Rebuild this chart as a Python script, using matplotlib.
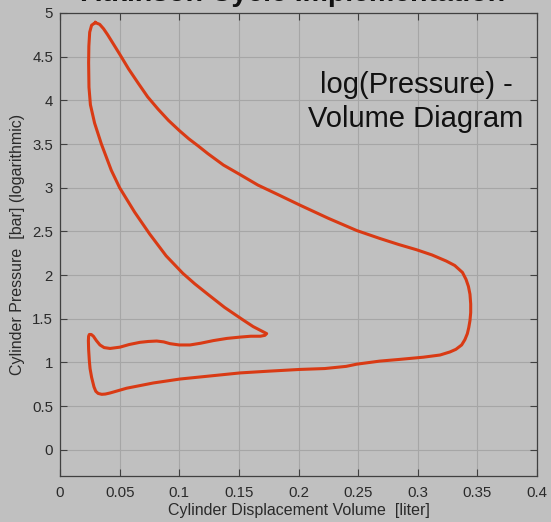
import matplotlib
matplotlib.use("Agg")
import matplotlib.pyplot as plt
import numpy as np

# cycle trace (volume in liter, log pressure)
vol = [0.0296, 0.0333, 0.0365, 0.040, 0.045, 0.050, 0.0575, 0.0654, 0.0735, 0.0822, 0.091,
       0.1004, 0.108, 0.1157, 0.124, 0.137, 0.151, 0.166, 0.183, 0.2013, 0.225, 0.2488,
       0.268, 0.284, 0.299, 0.312, 0.324, 0.331, 0.3375, 0.3405, 0.3425, 0.3438, 0.3444,
       0.3444, 0.3438, 0.3428, 0.3416, 0.3395, 0.3368, 0.332, 0.327, 0.3187, 0.3047, 0.285,
       0.268, 0.2488, 0.240, 0.222, 0.2013, 0.175, 0.151, 0.1258, 0.1006, 0.0783, 0.0559,
       0.047, 0.0419, 0.038, 0.035, 0.032, 0.030, 0.0285, 0.0265, 0.0252, 0.0246, 0.0240,
       0.0238, 0.0240, 0.0246, 0.0262, 0.028, 0.0305, 0.0335, 0.037, 0.042, 0.0503, 0.058,
       0.067, 0.074, 0.0811, 0.087, 0.0922, 0.100, 0.109, 0.118, 0.1286, 0.140, 0.151,
       0.160, 0.168, 0.1718, 0.1733, 0.162, 0.152, 0.138, 0.124, 0.113, 0.103, 0.089,
       0.0752, 0.0626, 0.050, 0.043, 0.0347, 0.029, 0.0255, 0.0243, 0.0240, 0.0242, 0.0249,
       0.0265, 0.0296]
logp = [4.89, 4.87, 4.82, 4.75, 4.64, 4.53, 4.36, 4.20, 4.04, 3.90, 3.77,
        3.65, 3.56, 3.48, 3.39, 3.26, 3.15, 3.03, 2.92, 2.80, 2.65, 2.51,
        2.42, 2.35, 2.29, 2.23, 2.16, 2.11, 2.03, 1.95, 1.87, 1.78, 1.67,
        1.57, 1.48, 1.40, 1.33, 1.26, 1.20, 1.15, 1.12, 1.085, 1.06, 1.035,
        1.015, 0.98, 0.955, 0.93, 0.92, 0.90, 0.88, 0.845, 0.81, 0.765, 0.705,
        0.67, 0.65, 0.638, 0.635, 0.645, 0.67, 0.72, 0.83, 0.93, 1.02, 1.15,
        1.25, 1.30, 1.32, 1.32, 1.30, 1.25, 1.20, 1.17, 1.16, 1.175, 1.205,
        1.23, 1.24, 1.245, 1.235, 1.215, 1.20, 1.20, 1.22, 1.25, 1.275, 1.29,
        1.30, 1.30, 1.31, 1.33, 1.41, 1.50, 1.63, 1.78, 1.90, 2.02, 2.22,
        2.47, 2.72, 3.00, 3.20, 3.50, 3.74, 3.95, 4.15, 4.43, 4.62, 4.78,
        4.86, 4.89]

xticks = np.arange(0, 0.401, 0.05)
yticks = np.arange(0, 5.01, 0.5)
xtick_labels = ['0', '0.05', '0.1', '0.15', '0.2', '0.25', '0.3', '0.35', '0.4']
ytick_labels = ['0', '0.5', '1', '1.5', '2', '2.5', '3', '3.5', '4', '4.5', '5']

plt.rcParams['font.family'] = ['Liberation Sans', 'DejaVu Sans']

bg = '#c0c0c0'
fig = plt.figure(figsize=(5.51, 5.22), dpi=100, facecolor=bg)
ax = fig.add_axes([60 / 551, 46 / 522, 477 / 551, 463 / 522])
ax.set_facecolor(bg)

ax.plot(vol, logp, color='#d93a14', linewidth=2.2, solid_joinstyle='round')

ax.set_xlim(0, 0.4)
ax.set_ylim(-0.3, 5)
ax.set_xticks(xticks)
ax.set_xticklabels(xtick_labels)
ax.set_yticks(yticks)
ax.set_yticklabels(ytick_labels)
ax.tick_params(direction='in', length=5, width=0.8, colors='#404040',
               labelsize=10.8, labelcolor='#2a2a2a', top=True, right=True)
ax.tick_params(axis='x', pad=7)
ax.tick_params(axis='y', pad=5)
ax.grid(True, color='#a6a6a6', linewidth=0.8)
ax.set_axisbelow(True)
for s in ax.spines.values():
    s.set_color('#404040')
    s.set_linewidth(0.9)

ax.set_xlabel('Cylinder Displacement Volume  [liter]', fontsize=11.5, color='#2a2a2a', labelpad=2)
ax.set_ylabel('Cylinder Pressure  [bar] (logarithmic)', fontsize=11.5, color='#2a2a2a', labelpad=5)

ax.text(0.2985, 3.98, 'log(Pressure) -\nVolume Diagram', fontsize=21, ha='center', va='center',
        multialignment='center', linespacing=1.25, color='#111111')

# title sits mostly above the frame, as in the reference
fig.text(0.531, 1 - 1 / 522, 'Atkinson Cycle Implementation', fontsize=20.5, fontweight='bold',
         ha='center', va='baseline', color='#111111')

fig.savefig('out.png', dpi=100, facecolor=bg)
